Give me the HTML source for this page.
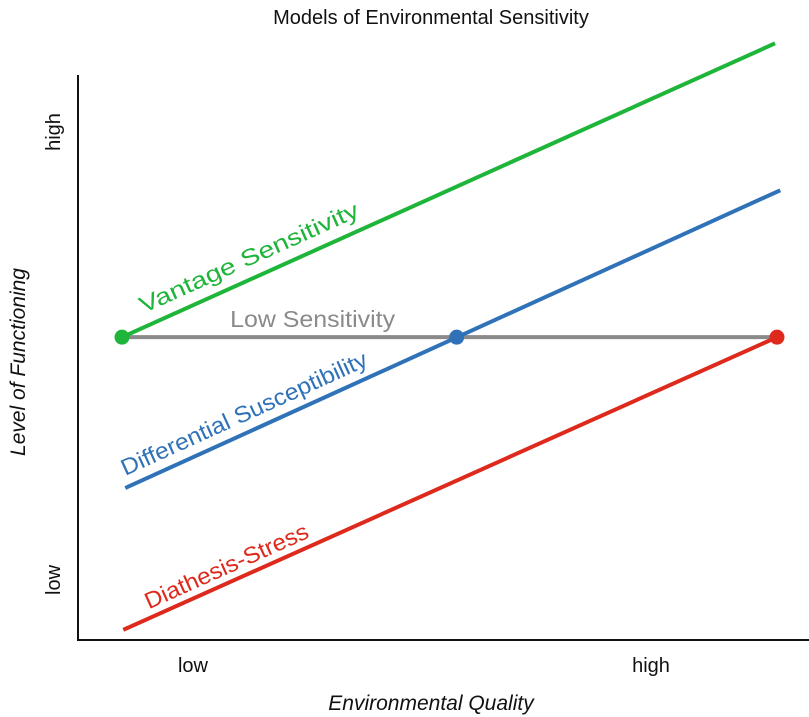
<!DOCTYPE html>
<html><head><meta charset="utf-8"><style>
html,body{margin:0;padding:0;background:#fff;}
svg{display:block;font-family:"Liberation Sans",sans-serif;}
</style></head><body>
<svg id="chart" width="809" height="717" viewBox="0 0 809 717">
<text x="431" y="24" text-anchor="middle" font-size="20" fill="#111">Models of Environmental Sensitivity</text>
<line x1="78" y1="75" x2="78" y2="641" stroke="#111" stroke-width="2"/>
<line x1="77" y1="640" x2="809" y2="640" stroke="#111" stroke-width="2"/>
<text transform="translate(60,132) rotate(-90)" text-anchor="middle" font-size="20" fill="#111">high</text>
<text transform="translate(60,580) rotate(-90)" text-anchor="middle" font-size="20" fill="#111">low</text>
<text x="193" y="672" text-anchor="middle" font-size="20" fill="#111">low</text>
<text x="651" y="672" text-anchor="middle" font-size="20" fill="#111">high</text>
<text transform="translate(25,362) rotate(-90)" text-anchor="middle" font-size="21" font-style="italic" fill="#111">Level of Functioning</text>
<text x="431" y="710" text-anchor="middle" font-size="21" font-style="italic" fill="#111">Environmental Quality</text>
<g id="marks"></g>
</svg>
<script>
const seriesNames = ["Low Sensitivity", "Vantage Sensitivity", "Differential Susceptibility", "Diathesis-Stress"];
const seriesKeys = ["low-sensitivity", "vantage-sensitivity", "differential-susceptibility", "diathesis-stress"];
const seriesColors = ["#8a8a8a", "#1fb53a", "#2f72b8", "#dd2a1c"];
const xStart = [0, 0, 0.005, 0.002];
const xEnd = [1, 0.997, 1.005, 1];
const yStart = [0.536, 0.536, 0.269, 0.018];
const yEnd = [0.536, 1.056, 0.796, 0.536];
const pointX = [0, 0.511, 1];
const pointY = [0.536, 0.536, 0.536];
const pointColors = ["#1fb53a", "#2f72b8", "#dd2a1c"];
const labelStartX = [0.165, 0.033, 0.005, 0.041];
const labelOffset = [-10, -14, -12, -9];
const labelLen = [165, 238, 268, 177];

function xs(v){return 122 + v*655;}
function ys(v){return 640 - v*565;}
const NS="http://www.w3.org/2000/svg";
const g=document.getElementById('marks');
for(let i=0;i<seriesNames.length;i++){
  const x1=xs(xStart[i]),y1=ys(yStart[i]),x2=xs(xEnd[i]),y2=ys(yEnd[i]);
  const l=document.createElementNS(NS,'line');
  l.setAttribute('x1',x1);l.setAttribute('y1',y1);l.setAttribute('x2',x2);l.setAttribute('y2',y2);
  l.setAttribute('stroke',seriesColors[i]);l.setAttribute('stroke-width',4);
  
  
  g.appendChild(l);
  const ang=Math.atan2(y2-y1,x2-x1)*180/Math.PI;
  const lx=xs(labelStartX[i]);
  const ly=y1+(lx-x1)*(y2-y1)/(x2-x1)+labelOffset[i];
  const t=document.createElementNS(NS,'text');
  t.setAttribute('transform','translate('+lx+','+ly+') rotate('+ang+')');
  t.setAttribute('font-size',23);t.setAttribute('fill',seriesColors[i]);
  t.setAttribute('textLength',labelLen[i]);
  t.setAttribute('lengthAdjust','spacingAndGlyphs');
  t.textContent=seriesNames[i];
  
  
  g.appendChild(t);
}
for(let j=0;j<pointX.length;j++){
  const c=document.createElementNS(NS,'circle');
  c.setAttribute('cx',xs(pointX[j]));c.setAttribute('cy',ys(pointY[j]));c.setAttribute('r',7.5);
  c.setAttribute('fill',pointColors[j]);
  
  
  g.appendChild(c);
}
</script>
</body></html>
